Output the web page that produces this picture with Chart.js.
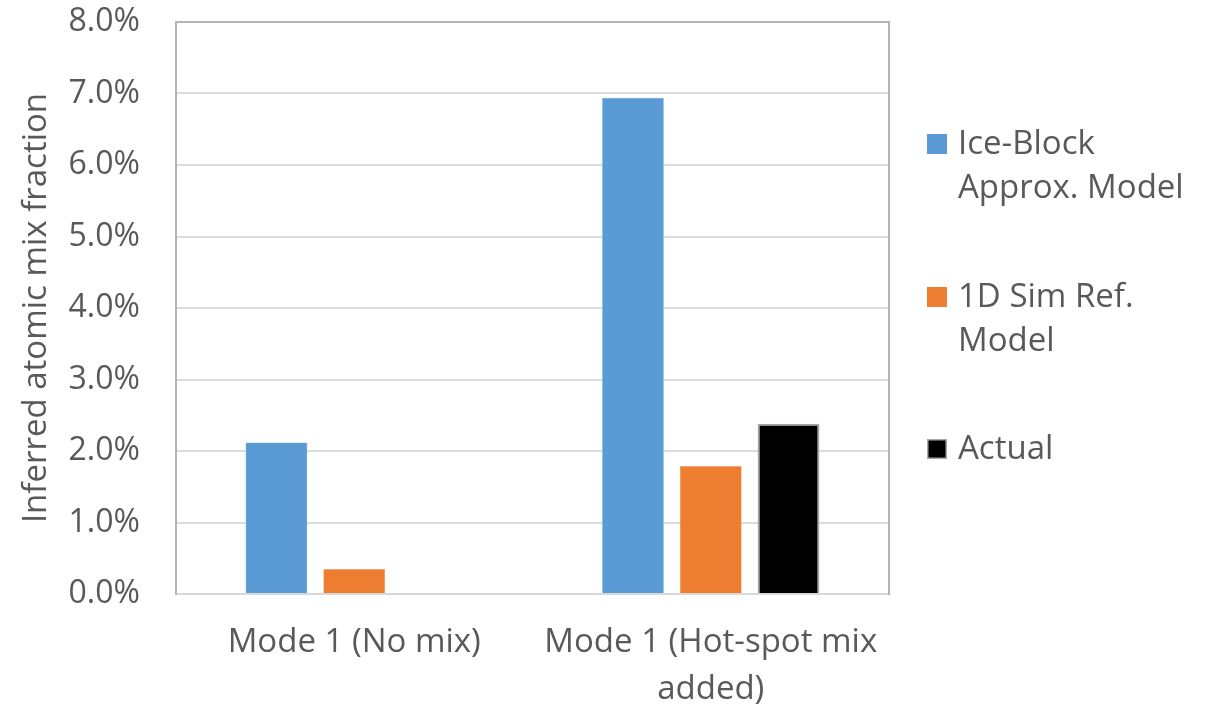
<!DOCTYPE html>
<html>
<head>
<meta charset="utf-8">
<script src="https://cdn.jsdelivr.net/npm/chart.js@4/dist/chart.umd.min.js"></script>
<style>
  html, body { margin: 0; padding: 0; background: #ffffff; }
  #wrap { width: 1210px; height: 706px; }
</style>
</head>
<body>
<div id="wrap"><canvas id="chart" width="1210" height="706"></canvas></div>
<script>
// Categories (x axis), one entry per group; arrays are multi-line labels
const categories = [
  'Mode 1 (No mix)',
  ['Mode 1 (Hot-spot mix', 'added)']
];

// Series names, split into the lines shown in the legend
const seriesNames = [
  ['Ice-Block', 'Approx. Model'],
  ['1D Sim Ref.', 'Model'],
  ['Actual']
];

// Inferred atomic mix fraction per category
const iceBlockValues = [0.0212, 0.0694];
const simRefValues   = [0.0035, 0.0179];
const actualValues   = [null,   0.0238];

// Y axis tick range
const yMin = 0;
const yMax = 0.08;
const yStep = 0.01;

const textColor = '#595959';
const fontFamily = '"Open Sans", "Noto Sans", sans-serif';

// Multi-line legend drawn to the right of the plot area
const sideLegend = {
  id: 'sideLegend',
  afterDraw(chart) {
    const ctx = chart.ctx;
    const x0 = 927;
    const box = 20;
    const textX = 958;
    const lineGap = 44;
    const firstBaselines = [154, 307, 459];
    ctx.save();
    ctx.font = '33px ' + fontFamily;
    ctx.textBaseline = 'alphabetic';
    ctx.textAlign = 'left';
    chart.data.datasets.forEach((ds, i) => {
      const base = firstBaselines[i];
      ctx.fillStyle = ds.backgroundColor;
      ctx.fillRect(x0, base - box, box, box);
      if (ds.borderWidth && ds.borderColor && ds.borderWidth > 0.5) {
        ctx.strokeStyle = ds.borderColor;
        ctx.lineWidth = 1.5;
        ctx.strokeRect(x0 + 0.75, base - box + 0.75, box - 1.5, box - 1.5);
      }
      ctx.fillStyle = textColor;
      seriesNames[i].forEach((line, j) => {
        ctx.fillText(line, textX, base + j * lineGap);
      });
    });
    ctx.restore();
  }
};

// Gray frame on the left, top and right of the plot area
const plotFrame = {
  id: 'plotFrame',
  afterDatasetsDraw(chart) {
    const { left, right, top, bottom } = chart.chartArea;
    const ctx = chart.ctx;
    ctx.save();
    ctx.strokeStyle = '#b4b4b4';
    ctx.lineWidth = 2;
    ctx.beginPath();
    ctx.moveTo(left, bottom + 1);
    ctx.lineTo(left, top);
    ctx.lineTo(right, top);
    ctx.lineTo(right, bottom + 1);
    ctx.stroke();
    ctx.restore();
  }
};

new Chart(document.getElementById('chart'), {
  type: 'bar',
  data: {
    labels: categories,
    datasets: [
      {
        label: seriesNames[0].join(' '),
        data: iceBlockValues,
        backgroundColor: '#5b9bd5',
        borderColor: '#8ebbe4',
        borderWidth: 0.5
      },
      {
        label: seriesNames[1].join(' '),
        data: simRefValues,
        backgroundColor: '#ed7d31',
        borderColor: '#f2a36e',
        borderWidth: 0.5
      },
      {
        label: seriesNames[2].join(' '),
        data: actualValues,
        backgroundColor: '#000000',
        borderColor: '#a6a6a6',
        borderWidth: 2
      }
    ]
  },
  options: {
    responsive: false,
    devicePixelRatio: 1,
    animation: false,
    layout: { padding: { left: 0, right: 321, top: 22, bottom: 0 } },
    datasets: {
      bar: { categoryPercentage: 0.6545, barPercentage: 0.795 }
    },
    plugins: {
      legend: { display: false },
      tooltip: { enabled: false }
    },
    scales: {
      x: {
        grid: { display: false, drawTicks: false },
        border: { display: true, color: '#d9d9d9', width: 2 },
        ticks: {
          color: textColor,
          font: { family: fontFamily, size: 33, lineHeight: 1.42 },
          padding: 25,
          maxRotation: 0,
          autoSkip: false
        },
        afterFit(scale) { scale.height = 112; }
      },
      y: {
        min: yMin,
        max: yMax,
        grid: { color: '#dcdcdc', lineWidth: 2, drawTicks: false },
        border: { display: false },
        ticks: {
          stepSize: yStep,
          color: textColor,
          font: { family: fontFamily, size: 32 },
          padding: 36,
          callback: (v) => (v * 100).toFixed(1) + '%'
        },
        title: {
          display: true,
          text: 'Inferred atomic mix fraction',
          color: textColor,
          font: { family: fontFamily, size: 33, weight: 'normal' },
          padding: { top: 17, bottom: 0 }
        },
        afterFit(scale) {
          scale.width = 176;
          scale.paddingTop = 0;
          scale.paddingBottom = 0;
        }
      }
    }
  },
  plugins: [plotFrame, sideLegend]
});
</script>
</body>
</html>
